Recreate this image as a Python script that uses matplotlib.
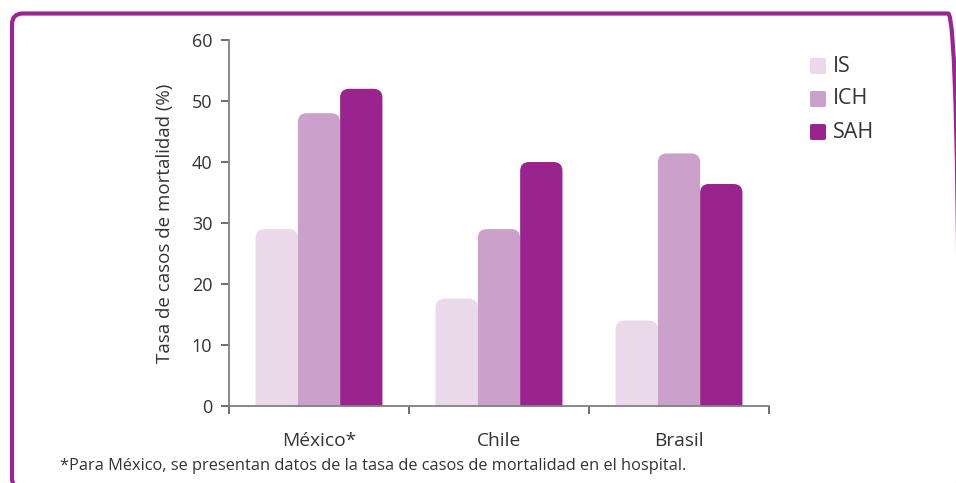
import matplotlib
matplotlib.use("Agg")
import matplotlib.pyplot as plt
from matplotlib.patches import FancyBboxPatch
import numpy as np

categories = ["México*", "Chile", "Brasil"]
series_names = ["IS", "ICH", "SAH"]
is_values = [29, 17.6, 14.0]
ich_values = [48, 29, 41.4]
sah_values = [52, 40, 36.4]
yticks = [0, 10, 20, 30, 40, 50, 60]
footnote = "*Para México, se presentan datos de la tasa de casos de mortalidad en el hospital."
ylabel = "Tasa de casos de mortalidad (%)"

colors = ["#E9D9EA", "#CBA0CA", "#9A248D"]
frame_color = "#9B258F"
text_color = "#333333"
axis_color = "#808080"

plt.rcParams['font.family'] = ['Open Sans', 'DejaVu Sans']

W, H = 956, 483
fig = plt.figure(figsize=(W / 100, H / 100), dpi=100)
ax = fig.add_axes([229 / W, 1 - 406 / H, (769 - 229) / W, (406 - 40) / H])

# frame, in pixel coordinates (figure dpi = 100)
fx0, fx1 = 12, 959
fy_top = 483 - 13.5
fy_bot = -6
frame = FancyBboxPatch((fx0, fy_bot), fx1 - fx0, fy_top - fy_bot,
                       boxstyle="round,pad=0,rounding_size=11",
                       transform=None, facecolor="none",
                       edgecolor=frame_color, linewidth=3.0, clip_on=False)
fig.patches.append(frame)

x = np.arange(len(categories))
bw = 0.235
all_vals = [is_values, ich_values, sah_values]
ax.set_xlim(-0.5, len(categories) - 0.5)
ax.set_ylim(0, 60)

px_per_x = (769 - 229) / 3.0
px_per_y = (406 - 40) / 60.0
r_px = 9
rx = r_px / px_per_x
aspect = px_per_x / px_per_y
ext = 3.0  # extend below zero; clipped by axes so bottom corners stay square

for i, vals in enumerate(all_vals):
    bars = ax.bar(x + (i - 1) * bw, vals, width=bw, color=colors[i],
                  linewidth=0, label=series_names[i])
    for rect in bars:
        h = rect.get_height()
        rect.set_alpha(0)
        p = FancyBboxPatch((rect.get_x(), -ext), rect.get_width(), h + ext,
                           boxstyle=f"round,pad=0,rounding_size={rx}",
                           mutation_aspect=aspect,
                           facecolor=colors[i], edgecolor="none", linewidth=0)
        ax.add_patch(p)

# axes styling
for s in ["top", "right"]:
    ax.spines[s].set_visible(False)
ax.spines["left"].set_color(axis_color)
ax.spines["bottom"].set_color(axis_color)
ax.spines["left"].set_linewidth(1.3)
ax.spines["bottom"].set_linewidth(1.3)
ax.spines["left"].set_zorder(5)
ax.spines["bottom"].set_zorder(5)

ax.set_yticks(yticks)
ax.set_yticklabels([str(t) for t in yticks])
ax.tick_params(axis="y", length=6, width=1.2, color="#555555", pad=6,
               labelsize=13, labelcolor=text_color)

ax.set_xticks(np.arange(len(categories) + 1) - 0.5)
ax.set_xticklabels([""] * (len(categories) + 1))
ax.set_xticks(x, minor=True)
ax.set_xticklabels(categories, minor=True)
ax.tick_params(axis="x", which="major", length=6, width=1.2, color="#555555")
ax.tick_params(axis="x", which="minor", length=0, pad=19, labelsize=13.8,
               labelcolor=text_color)

ax.set_ylabel(ylabel, fontsize=13.5, color=text_color, labelpad=13)

# legend (manual)
leg_x = 810
leg_ys = [58, 91, 124]
for i, name in enumerate(series_names):
    y0 = leg_ys[i]
    sq = FancyBboxPatch((leg_x / W, 1 - (y0 + 16) / H), 16 / W, 16 / H,
                        boxstyle="round,pad=0,rounding_size=0.002",
                        mutation_aspect=W / H,
                        transform=fig.transFigure, facecolor=colors[i],
                        edgecolor="none")
    fig.patches.append(sq)
    fig.text(833 / W, 1 - (y0 + 8) / H, name, fontsize=15.5, color=text_color,
             va="center", ha="left")

fig.text(60 / W, 1 - 466 / H, footnote, fontsize=11.8, color=text_color,
         va="center", ha="left")

fig.savefig("out.png", dpi=100)
